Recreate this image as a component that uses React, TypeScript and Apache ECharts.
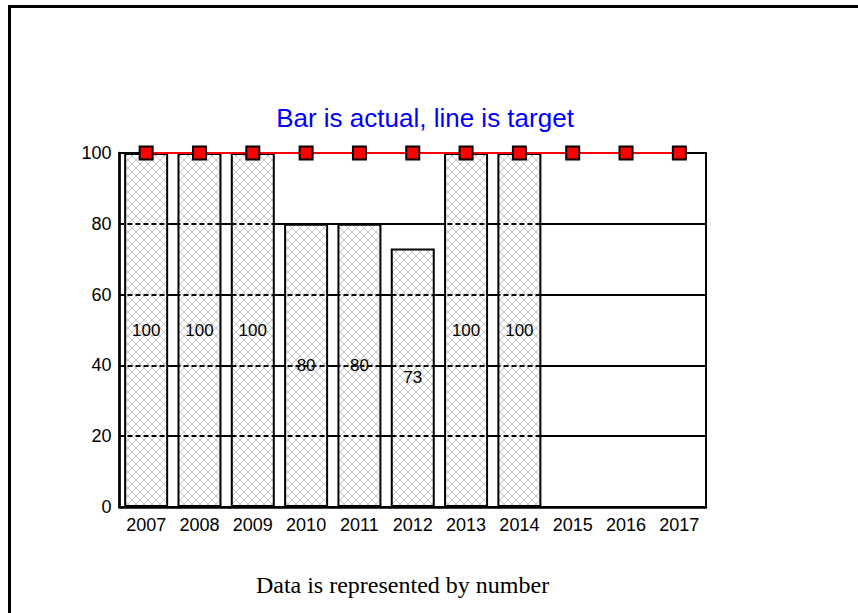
import React, { useEffect, useRef } from "react";
import * as echarts from "echarts";

const years = ["2007", "2008", "2009", "2010", "2011", "2012", "2013", "2014", "2015", "2016", "2017"];
const actual: (number | null)[] = [100, 100, 100, 80, 80, 73, 100, 100, null, null, null];
const target = [100, 100, 100, 100, 100, 100, 100, 100, 100, 100, 100];
const gridLevels = [20, 40, 60, 80];
const titleText = "Bar is actual, line is target";
const footerText = "Data is represented by number";

function makeHatch(): HTMLCanvasElement {
  const c = document.createElement("canvas");
  const n = 8;
  c.width = n;
  c.height = n;
  const ctx = c.getContext("2d")!;
  ctx.fillStyle = "#ffffff";
  ctx.fillRect(0, 0, n, n);
  ctx.fillStyle = "#c6c6c6";
  for (let i = 0; i < n; i++) {
    ctx.fillRect(i, i, 1, 1);
    ctx.fillRect(i, n - 1 - i, 1, 1);
  }
  return c;
}

export default function App() {
  const ref = useRef<HTMLDivElement>(null);
  useEffect(() => {
    if (!ref.current) return;
    const chart = echarts.init(ref.current, undefined, { renderer: "svg" });
    const hatch = makeHatch();
    const sans = "'Liberation Sans', Arial, sans-serif";
    chart.setOption({
      animation: false,
      backgroundColor: "#ffffff",
      grid: {
        left: 119.5,
        right: 152,
        top: 153,
        bottom: 106,
        show: true,
        borderColor: "#000",
        borderWidth: 2,
        backgroundColor: "transparent",
      },
      xAxis: {
        type: "category",
        data: years,
        axisLine: { show: true, lineStyle: { color: "#000", width: 2.5 } },
        axisTick: { show: false },
        axisLabel: { color: "#000", fontSize: 18, fontFamily: sans, margin: 9 },
        splitLine: { show: false },
      },
      yAxis: {
        type: "value",
        min: 0,
        max: 100,
        interval: 20,
        axisLine: { show: true, lineStyle: { color: "#000", width: 2.5 } },
        axisTick: { show: false },
        axisLabel: { color: "#000", fontSize: 18, fontFamily: sans, margin: 8 },
        splitLine: { show: true, lineStyle: { color: "#000", width: 2 } },
      },
      series: [
        {
          type: "bar",
          data: actual,
          barWidth: 44,
          itemStyle: {
            color: { image: hatch, repeat: "repeat", imageWidth: 8, imageHeight: 8 },
            borderColor: "#000",
            borderWidth: 2,
          },
          label: {
            show: true,
            position: "inside",
            color: "#000",
            fontSize: 17,
            fontFamily: sans,
            textBorderWidth: 0,
          },
          markLine: {
            silent: true,
            symbol: "none",
            z: 3,
            label: { show: false },
            lineStyle: { color: "#000", width: 2, type: [5, 3] },
            data: gridLevels.map((v) => ({ yAxis: v })),
          },
          z: 2,
        },
        {
          type: "line",
          data: target,
          symbol: "rect",
          symbolSize: 13,
          lineStyle: { color: "#ff0000", width: 2 },
          itemStyle: { color: "#ff0000", borderColor: "#000", borderWidth: 2 },
          z: 5,
        },
      ],
      graphic: [
        {
          type: "line",
          shape: { x1: 8, y1: 6.5, x2: 858, y2: 6.5 },
          style: { stroke: "#000", lineWidth: 3 },
        },
        {
          type: "line",
          shape: { x1: 9.5, y1: 5, x2: 9.5, y2: 613 },
          style: { stroke: "#000", lineWidth: 3 },
        },
        {
          type: "text",
          x: 425,
          y: 118,
          style: {
            text: titleText,
            fill: "#0000ff",
            fontSize: 26,
            fontFamily: sans,
            textAlign: "center",
            textVerticalAlign: "middle",
          },
        },
        {
          type: "text",
          x: 402.5,
          y: 585,
          style: {
            text: footerText,
            fill: "#000",
            fontSize: 24,
            fontFamily: "'Liberation Serif', 'Times New Roman', serif",
            textAlign: "center",
            textVerticalAlign: "middle",
          },
        },
      ],
    });
    return () => chart.dispose();
  }, []);
  return (
    <div
      ref={ref}
      style={{ position: "fixed", left: 0, top: 0, width: 858, height: 613 }}
    />
  );
}
